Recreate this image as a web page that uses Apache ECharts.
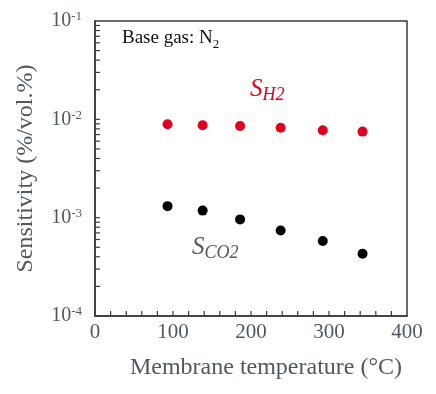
<!DOCTYPE html>
<html>
<head>
<meta charset="utf-8">
<script src="https://cdn.jsdelivr.net/npm/echarts@6/dist/echarts.min.js"></script>
<style>
  html, body { margin: 0; padding: 0; background: #fff; }
  #chart { width: 436px; height: 394px; }
</style>
</head>
<body>
<div id="chart"></div>
<script>
// membrane temperature (°C)
var temps = [93, 138, 186, 238, 292, 343];
// sensitivity (%/vol.%)
var sH2 = [8.9e-3, 8.7e-3, 8.55e-3, 8.2e-3, 7.75e-3, 7.5e-3];
var sCO2 = [1.31e-3, 1.18e-3, 9.6e-4, 7.4e-4, 5.8e-4, 4.3e-4];
// tick positions drawn inside the plot
var yTickVals = [];
[1e-4, 1e-3, 1e-2].forEach(function (d) {
  for (var k = 1; k <= 9; k++) yTickVals.push(d * k);
});
var xTickVals = [20, 40, 60, 80, 100, 120, 140, 160, 180, 200, 220, 240, 260, 280, 300, 320, 340, 360, 380];

var axisColor = '#3a3a3a';
var textColor = '#4f5962';
var red = '#e2001f';
var serif = '"Liberation Serif", "DejaVu Serif", serif';

function pairs(ys) {
  return temps.map(function (t, i) { return [t, ys[i]]; });
}

var chart = echarts.init(document.getElementById('chart'));
chart.setOption({
  animation: false,
  grid: {
    left: 95, top: 21, right: 29, bottom: 78,
    show: true, borderColor: axisColor, borderWidth: 1.5,
    containLabel: false
  },
  xAxis: {
    type: 'value', min: 0, max: 400, interval: 100,
    axisLine: { lineStyle: { color: axisColor, width: 1.5 } },
    axisTick: { show: false },
    splitLine: { show: false },
    axisLabel: { color: textColor, fontFamily: serif, fontSize: 21, margin: 6 },
    name: 'Membrane temperature (°C)',
    nameLocation: 'middle', nameGap: 40,
    nameTextStyle: { color: textColor, fontFamily: serif, fontSize: 24, padding: [0, 0, 0, 30] }
  },
  yAxis: {
    type: 'log', logBase: 10, min: 1e-4, max: 1e-1,
    axisLine: { lineStyle: { color: axisColor, width: 1.5 } },
    axisTick: { show: false },
    splitLine: { show: false },
    axisLabel: {
      margin: 13,
      formatter: function (v) {
        var e = Math.round(Math.log10(v));
        return '{b|10}{s|' + e + '}';
      },
      rich: {
        b: { color: textColor, fontFamily: serif, fontSize: 20, lineHeight: 21 },
        s: { color: textColor, fontFamily: serif, fontSize: 13, verticalAlign: 'top' }
      }
    },
    name: 'Sensitivity (%/vol.%)',
    nameLocation: 'middle', nameGap: 57,
    nameTextStyle: { color: textColor, fontFamily: serif, fontSize: 24 }
  },
  graphic: [
    {
      type: 'text', left: 122, top: 29,
      style: { text: 'Base gas: {b|N}{sub|2}', fill: '#111', font: '19px ' + serif,
        rich: {
          b: { fontFamily: serif, fontSize: 19, fill: '#111', lineHeight: 25 },
          sub: { fontFamily: serif, fontSize: 13, fill: '#111', verticalAlign: 'bottom' }
        } }
    },
    {
      type: 'text', left: 250, top: 77,
      style: { text: '{m|S}{sub|H2}', rich: {
        m: { fontFamily: serif, fontStyle: 'italic', fontSize: 25, fill: red, lineHeight: 30 },
        sub: { fontFamily: serif, fontStyle: 'italic', fontSize: 18, fill: red, verticalAlign: 'bottom' }
      } }
    },
    {
      type: 'text', left: 192, top: 235,
      style: { text: '{m|S}{sub|CO2}', rich: {
        m: { fontFamily: serif, fontStyle: 'italic', fontSize: 25, fill: textColor, lineHeight: 30 },
        sub: { fontFamily: serif, fontStyle: 'italic', fontSize: 18, fill: textColor, verticalAlign: 'bottom' }
      } }
    }
  ],
  series: [
    {
      name: 'S_H2', type: 'scatter', data: pairs(sH2),
      symbolSize: 10, itemStyle: { color: red, opacity: 1 }
    },
    {
      name: 'S_CO2', type: 'scatter', data: pairs(sCO2),
      symbolSize: 10, itemStyle: { color: '#000', opacity: 1 }
    },
    {
      name: 'yTicks', type: 'custom', silent: true, clip: false, z: 5,
      data: yTickVals.map(function (v) { return [0, v]; }),
      renderItem: function (params, api) {
        var p = api.coord([0, api.value(1)]);
        return {
          type: 'line',
          shape: { x1: p[0], y1: p[1], x2: p[0] + 5, y2: p[1] },
          style: { stroke: axisColor, lineWidth: 1.2 }
        };
      }
    },
    {
      name: 'xTicks', type: 'custom', silent: true, clip: false, z: 5,
      data: xTickVals.map(function (v) { return [v, 1e-4]; }),
      renderItem: function (params, api) {
        var p = api.coord([api.value(0), 1e-4]);
        return {
          type: 'line',
          shape: { x1: p[0], y1: p[1], x2: p[0], y2: p[1] - 5 },
          style: { stroke: axisColor, lineWidth: 1.2 }
        };
      }
    }
  ]
});
</script>
</body>
</html>
